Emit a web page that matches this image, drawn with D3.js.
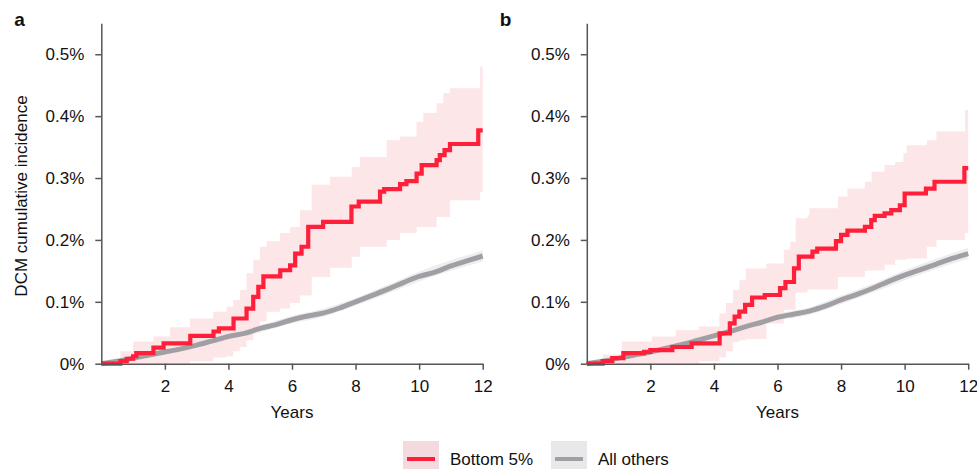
<!DOCTYPE html>
<html lang="en">

<head>
  <meta charset="UTF-8">
  <script src="https://d3js.org/d3.v7.min.js" charset="utf-8"></script>
  <title>DCM cumulative incidence</title>
  <style>
    body { margin: 0; background: #fff; }
    text { font-family: "Liberation Sans", Arial, sans-serif; fill: #111; }
  </style>
</head>

<body>
</body>
<script>
  // ---- data (cumulative incidence in %) ----
  let yTicks = [0, 0.1, 0.2, 0.3, 0.4, 0.5]
  let xTicks = [2, 4, 6, 8, 10, 12]

  // panel a : bottom 5% (step curve)
  let redTimesA = [0, 0.6, 0.8, 1.0, 1.1, 1.64, 1.96, 2.8, 3.53, 3.7, 4.16, 4.57, 4.78, 4.94, 5.1, 5.63, 5.94, 6.1, 6.3, 6.51, 6.98, 7.87, 8.1, 8.77, 8.9, 9.4, 9.6, 9.92, 10.08, 10.55, 10.65, 10.8, 10.97, 11.86, 12]
  let redValsA = [0, 0.004, 0.008, 0.012, 0.017, 0.026, 0.033, 0.045, 0.052, 0.057, 0.073, 0.089, 0.108, 0.124, 0.141, 0.151, 0.159, 0.178, 0.189, 0.221, 0.229, 0.254, 0.262, 0.278, 0.282, 0.29, 0.295, 0.307, 0.321, 0.329, 0.337, 0.345, 0.355, 0.377, 0.377]
  let redBandTimesA = [0, 0.6, 1.0, 1.64, 2.16, 2.79, 3.52, 3.94, 4.15, 4.36, 4.57, 4.78, 4.99, 5.2, 5.62, 5.94, 6.25, 6.62, 7.2, 7.88, 8.14, 8.98, 9.4, 9.92, 10.13, 10.55, 10.76, 10.97, 11.92, 12]
  let redLoA = [0, 0, 0, 0, 0, 0.004, 0.01, 0.012, 0.02, 0.027, 0.038, 0.05, 0.068, 0.084, 0.089, 0.098, 0.11, 0.14, 0.155, 0.173, 0.189, 0.2, 0.211, 0.221, 0.221, 0.237, 0.237, 0.264, 0.278, 0.278]
  let redHiA = [0.005, 0.02, 0.036, 0.044, 0.059, 0.073, 0.084, 0.092, 0.103, 0.119, 0.146, 0.168, 0.189, 0.198, 0.211, 0.221, 0.248, 0.289, 0.302, 0.318, 0.334, 0.361, 0.367, 0.391, 0.405, 0.421, 0.437, 0.445, 0.48, 0.48]

  // panel b : bottom 5%
  let redTimesB = [0, 0.5, 0.8, 1.15, 1.8, 2.0, 2.69, 3.3, 4.18, 4.5, 4.65, 4.8, 4.98, 5.2, 5.6, 6.08, 6.25, 6.52, 6.67, 7.1, 7.25, 7.84, 8.0, 8.2, 8.75, 8.95, 9.06, 9.37, 9.58, 9.85, 10.0, 10.67, 10.94, 11.88, 12]
  let redValsB = [0, 0.004, 0.009, 0.017, 0.019, 0.022, 0.027, 0.033, 0.049, 0.065, 0.076, 0.084, 0.095, 0.107, 0.111, 0.122, 0.132, 0.154, 0.173, 0.181, 0.186, 0.198, 0.208, 0.215, 0.221, 0.232, 0.239, 0.243, 0.248, 0.256, 0.275, 0.283, 0.294, 0.316, 0.316]
  let redBandTimesB = [0, 0.5, 1.1, 2.05, 2.8, 3.53, 4.17, 4.38, 4.6, 4.8, 5.0, 5.65, 6.2, 6.4, 6.57, 6.94, 7.0, 7.9, 8.2, 8.75, 8.96, 9.37, 9.7, 9.96, 10.06, 10.7, 11.0, 11.9, 12]
  let redLoB = [0, 0, 0, 0, 0, 0.004, 0.01, 0.02, 0.035, 0.038, 0.04, 0.065, 0.087, 0.087, 0.115, 0.12, 0.12, 0.14, 0.14, 0.15, 0.151, 0.16, 0.168, 0.168, 0.17, 0.189, 0.2, 0.211, 0.211]
  let redHiB = [0.005, 0.015, 0.036, 0.044, 0.054, 0.06, 0.081, 0.098, 0.119, 0.135, 0.154, 0.162, 0.184, 0.197, 0.235, 0.24, 0.251, 0.27, 0.283, 0.294, 0.31, 0.321, 0.326, 0.34, 0.353, 0.361, 0.375, 0.41, 0.41]

  // all others (smooth curve)
  let grayTimes = [0, 0.5, 1, 1.5, 2, 2.5, 3, 3.5, 4, 4.5, 5, 5.5, 6, 6.5, 7, 7.5, 8, 8.5, 9, 9.5, 10, 10.5, 11, 11.5, 12]
  let grayValsA = [0, 0.004, 0.009, 0.014, 0.019, 0.024, 0.03, 0.037, 0.044, 0.049, 0.057, 0.063, 0.071, 0.077, 0.082, 0.09, 0.1, 0.11, 0.12, 0.131, 0.141, 0.148, 0.158, 0.166, 0.174]
  let grayValsB = [0, 0.004, 0.009, 0.014, 0.019, 0.025, 0.031, 0.038, 0.045, 0.052, 0.06, 0.067, 0.075, 0.08, 0.085, 0.093, 0.103, 0.112, 0.122, 0.133, 0.143, 0.152, 0.161, 0.17, 0.178]
  let grayBandTimes = [0, 1, 2, 3, 4, 5, 6, 7, 8, 9, 10, 11, 12]
  let grayLoA = [0, 0.007, 0.016, 0.026, 0.039, 0.051, 0.065, 0.076, 0.094, 0.113, 0.133, 0.15, 0.165]
  let grayHiA = [0, 0.011, 0.022, 0.034, 0.049, 0.062, 0.077, 0.089, 0.106, 0.127, 0.149, 0.167, 0.183]
  let grayLoB = [0, 0.007, 0.016, 0.027, 0.04, 0.054, 0.069, 0.079, 0.096, 0.115, 0.135, 0.153, 0.169]
  let grayHiB = [0, 0.011, 0.022, 0.035, 0.05, 0.066, 0.081, 0.091, 0.11, 0.129, 0.151, 0.17, 0.187]

  let legendLabels = ['Bottom 5%', 'All others']

  // ---- colours ----
  let red = '#ff1f3a'
  let redBand = '#fde3e6'
  let grey = '#a19fa3'
  let greyBand = '#eeeeef'
  let axisColor = '#555'
  let fontSize = '17px'

  let width = 977
  let height = 469

  let svg = d3.select('body')
    .append('svg')
    .attr('width', width)
    .attr('height', height)

  // shared y scale (both panels use the same vertical range)
  let y = d3.scaleLinear()
    .domain([0, 0.55])
    .range([363.7, 23.3])

  function drawPanel(opt) {
    let x = d3.scaleLinear()
      .domain([0, 12])
      .range([opt.left, opt.left + 381.4])

    let g = svg.append('g')

    // grey confidence band
    let gBand = grayBandTimes.map((t, i) => ({ t: t, lo: opt.grayLo[i], hi: opt.grayHi[i] }))
    g.append('path')
      .datum(gBand)
      .attr('fill', greyBand)
      .attr('d', d3.area()
        .curve(d3.curveMonotoneX)
        .x(d => x(d.t))
        .y0(d => y(d.lo))
        .y1(d => y(d.hi)))

    // red confidence band
    let rBand = opt.redBandTimes.map((t, i) => ({ t: t, lo: opt.redLo[i], hi: opt.redHi[i] }))
    g.append('path')
      .datum(rBand)
      .attr('fill', redBand)
      .attr('fill-opacity', 0.9)
      .attr('d', d3.area()
        .curve(d3.curveStepAfter)
        .x(d => x(d.t))
        .y0(d => y(d.lo))
        .y1(d => y(d.hi)))

    // grey line
    let gLine = grayTimes.map((t, i) => ({ t: t, v: opt.grayVals[i] }))
    g.append('path')
      .datum(gLine)
      .attr('fill', 'none')
      .attr('stroke', grey)
      .attr('stroke-width', 5)
      .attr('d', d3.line()
        .curve(d3.curveMonotoneX)
        .x(d => x(d.t))
        .y(d => y(d.v)))

    // red step line
    let rLine = opt.redTimes.map((t, i) => ({ t: t, v: opt.redVals[i] }))
    g.append('path')
      .datum(rLine)
      .attr('fill', 'none')
      .attr('stroke', red)
      .attr('stroke-width', 4.2)
      .attr('stroke-linejoin', 'miter')
      .attr('d', d3.line()
        .curve(d3.curveStepAfter)
        .x(d => x(d.t))
        .y(d => y(d.v)))

    // axes
    let yAxis = d3.axisLeft(y)
      .tickValues(yTicks)
      .tickSize(6)
      .tickSizeOuter(0)
      .tickPadding(11)
      .tickFormat(d => d === 0 ? '0%' : d3.format('.1f')(d) + '%')

    let xAxis = d3.axisBottom(x)
      .tickValues(xTicks)
      .tickSize(6)
      .tickSizeOuter(0)
      .tickPadding(10)

    let ya = g.append('g')
      .attr('transform', 'translate(' + opt.left + ',0)')
      .call(yAxis)
    let xa = g.append('g')
      .attr('transform', 'translate(0,' + y(0) + ')')
      .call(xAxis)

    for (let a of [ya, xa]) {
      a.selectAll('path, line').attr('stroke', axisColor).attr('stroke-width', 1.5)
      a.selectAll('text')
        .style('font-family', '"Liberation Sans", Arial, sans-serif')
        .style('font-size', fontSize)
        .attr('fill', '#111')
    }

    g.append('text')
      .attr('x', opt.left + 190.7)
      .attr('y', 418)
      .attr('text-anchor', 'middle')
      .style('font-size', fontSize)
      .text('Years')

    g.append('text')
      .attr('x', opt.left - 87)
      .attr('y', 26)
      .style('font-size', '19px')
      .style('font-weight', 'bold')
      .text(opt.label)
  }

  drawPanel({
    label: 'a', left: 101.3,
    redTimes: redTimesA, redVals: redValsA,
    redBandTimes: redBandTimesA, redLo: redLoA, redHi: redHiA,
    grayVals: grayValsA, grayLo: grayLoA, grayHi: grayHiA
  })
  drawPanel({
    label: 'b', left: 586.8,
    redTimes: redTimesB, redVals: redValsB,
    redBandTimes: redBandTimesB, redLo: redLoB, redHi: redHiB,
    grayVals: grayValsB, grayLo: grayLoB, grayHi: grayHiB
  })

  // y axis title (panel a only)
  svg.append('text')
    .attr('transform', 'translate(27,196) rotate(-90)')
    .attr('text-anchor', 'middle')
    .style('font-size', fontSize)
    .text('DCM cumulative incidence')

  // legend
  let legend = svg.append('g')
  let legendX = [403, 551]
  let legendBox = ['#f4dade', '#e8e8ea']
  let legendLine = [red, grey]
  legendLabels.forEach((lab, i) => {
    legend.append('rect')
      .attr('x', legendX[i])
      .attr('y', 441)
      .attr('width', 36)
      .attr('height', 36)
      .attr('fill', legendBox[i])
    legend.append('line')
      .attr('x1', legendX[i] + 4)
      .attr('x2', legendX[i] + 32)
      .attr('y1', 459)
      .attr('y2', 459)
      .attr('stroke', legendLine[i])
      .attr('stroke-width', 4)
    legend.append('text')
      .attr('x', legendX[i] + 47)
      .attr('y', 465)
      .style('font-size', fontSize)
      .text(lab)
  })
</script>

</html>
